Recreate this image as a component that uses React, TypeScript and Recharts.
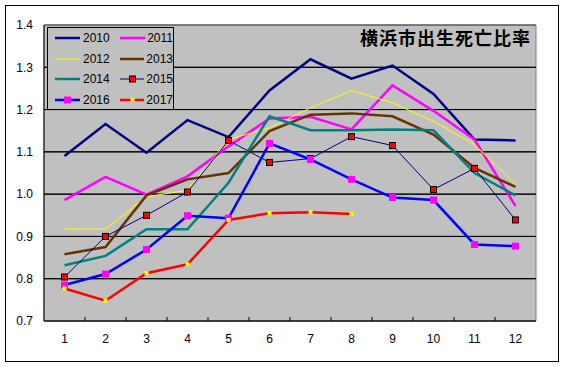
import React from "react";
import { LineChart, Line, XAxis, YAxis, CartesianGrid, ReferenceArea, ReferenceLine } from "recharts";

const months = ["1", "2", "3", "4", "5", "6", "7", "8", "9", "10", "11", "12"];
const yTicks = [0.7, 0.8, 0.9, 1.0, 1.1, 1.2, 1.3, 1.4];

const y2010 = [1.09, 1.166, 1.098, 1.175, 1.135, 1.245, 1.319, 1.273, 1.304, 1.237, 1.129, 1.127];
const y2011 = [0.986, 1.041, 0.999, 1.042, 1.113, 1.179, 1.183, 1.153, 1.257, 1.197, 1.129, 0.972];
const y2012 = [0.918, 0.917, 0.994, 1.009, 1.129, 1.157, 1.204, 1.245, 1.216, 1.172, 1.117, 1.024];
const y2013 = [0.858, 0.875, 0.997, 1.035, 1.05, 1.149, 1.188, 1.191, 1.184, 1.141, 1.062, 1.017];
const y2014 = [0.832, 0.854, 0.917, 0.917, 1.027, 1.184, 1.151, 1.151, 1.153, 1.151, 1.05, 0.997];
const y2015 = [0.804, 0.9, 0.95, 1.005, 1.127, 1.075, 1.084, 1.136, 1.115, 1.011, 1.061, 0.939];
const y2016 = [0.785, 0.811, 0.869, 0.949, 0.943, 1.12, 1.082, 1.035, 0.992, 0.986, 0.881, 0.877];
const y2017 = [0.777, 0.748, 0.813, 0.834, 0.939, 0.955, 0.957, 0.953, null, null, null, null];

type Marker = { fill: string; size: number; stroke?: string } | null;
type Series = { key: string; values: (number | null)[]; color: string; width: number; marker: Marker };

const series: Series[] = [
  { key: "2010", values: y2010, color: "#000080", width: 2.5, marker: null },
  { key: "2011", values: y2011, color: "#FF00FF", width: 2.5, marker: null },
  { key: "2012", values: y2012, color: "#FFFF00", width: 1, marker: null },
  { key: "2013", values: y2013, color: "#663300", width: 2.5, marker: null },
  { key: "2014", values: y2014, color: "#008080", width: 2.5, marker: null },
  { key: "2015", values: y2015, color: "#000080", width: 1, marker: { fill: "#FF0000", size: 6, stroke: "#000000" } },
  { key: "2016", values: y2016, color: "#0000FF", width: 2.5, marker: { fill: "#FF00FF", size: 7 } },
  { key: "2017", values: y2017, color: "#FF0000", width: 2.5, marker: { fill: "#FFFF00", size: 4 } },
];

const data = months.map((m, i) => {
  const row: Record<string, string | number | null> = { month: m };
  series.forEach((s) => (row[s.key] = s.values[i]));
  return row;
});

const FONT = "'Liberation Sans', Arial, sans-serif";

const squareDot = (marker: Marker) => (props: any) => {
  const { cx, cy, index } = props;
  if (!marker || cx == null || cy == null || props.value == null) return <g key={index} />;
  const h = marker.size / 2;
  return (
    <rect
      key={index}
      x={cx - h}
      y={cy - h}
      width={marker.size}
      height={marker.size}
      fill={marker.fill}
      stroke={marker.stroke ?? "none"}
      strokeWidth={marker.stroke ? 1 : 0}
    />
  );
};

// label plus a small inward tick mark on the boundary to the right of each category
const MonthTick = (props: any) => {
  const { x, y, payload, index } = props;
  const half = payload?.offset ?? 0;
  const axisY = y - 13;
  return (
    <g>
      {index < months.length - 1 && (
        <line x1={x + half} x2={x + half} y1={axisY} y2={axisY - 4} stroke="#000" />
      )}
      <text x={x} y={y} dy="0.71em" textAnchor="middle" fontSize={12} fontFamily={FONT} fill="#000">
        {payload.value}
      </text>
    </g>
  );
};

function LegendBox() {
  return (
    <div
      style={{
        position: "absolute",
        left: 47,
        top: 27,
        width: 125,
        height: 81,
        border: "1px solid #000",
        background: "#C0C0C0",
        display: "grid",
        gridTemplateColumns: "65px 60px",
        gridTemplateRows: "repeat(4, 20.5px)",
      }}
    >
      {series.map((s) => (
        <div key={s.key} style={{ display: "flex", alignItems: "center", paddingLeft: 7 }}>
          <svg width={26} height={10} style={{ display: "block" }}>
            <line x1={0} x2={25} y1={5} y2={5} stroke={s.color} strokeWidth={s.width} />
            {s.marker && (
              <rect
                x={12.5 - s.marker.size / 2}
                y={5 - s.marker.size / 2}
                width={s.marker.size}
                height={s.marker.size}
                fill={s.marker.fill}
                stroke={s.marker.stroke ?? "none"}
              />
            )}
          </svg>
          <span style={{ marginLeft: 2, fontSize: 12, fontFamily: FONT, color: "#000" }}>{s.key}</span>
        </div>
      ))}
    </div>
  );
}

export default function App() {
  return (
    <div style={{ position: "absolute", left: 0, top: 0, width: 565, height: 367, background: "#fff" }}>
      <div
        style={{
          position: "absolute",
          left: 5,
          top: 5,
          width: 554,
          height: 357,
          border: "1px solid #000",
          boxSizing: "border-box",
        }}
      />
      <div style={{ position: "absolute", left: 0, top: 0 }}>
        <LineChart width={565} height={367} data={data} margin={{ top: 25, right: 29, bottom: 16, left: 0 }}>
          <CartesianGrid vertical={false} fill="#C0C0C0" fillOpacity={1} stroke="#000" />
          <ReferenceArea x1="1" x2="12" y1={0.7} y2={1.4} fill="none" stroke="#808080" ifOverflow="extendDomain" />
          {yTicks.slice(1, -1).map((v) => (
            <ReferenceLine key={v} y={v} stroke="#000" />
          ))}
          <XAxis
            dataKey="month"
            scale="band"
            height={30}
            axisLine={{ stroke: "#000" }}
            tickLine={false}
            tickSize={0}
            tickMargin={13}
            interval={0}
            tick={<MonthTick />}
          />
          <YAxis
            width={44}
            domain={[0.7, 1.4]}
            ticks={yTicks}
            axisLine={{ stroke: "#000" }}
            tickLine={false}
            tickSize={0}
            tickMargin={11}
            tickFormatter={(v: number) => v.toFixed(1)}
            tick={{ fill: "#000", fontSize: 12, fontFamily: FONT }}
          />
          {series.map((s) => (
            <Line
              key={s.key}
              dataKey={s.key}
              stroke={s.color}
              strokeWidth={s.width}
              type="linear"
              dot={s.marker ? squareDot(s.marker) : false}
              activeDot={false}
              isAnimationActive={false}
              connectNulls={false}
            />
          ))}
        </LineChart>
      </div>
      <LegendBox />
      <div
        style={{
          position: "absolute",
          left: 355,
          top: 27,
          width: 176,
          textAlign: "right",
          fontFamily: "'Noto Sans CJK JP', sans-serif",
          fontWeight: 700,
          fontSize: 18,
          letterSpacing: 1,
          lineHeight: "20px",
          color: "#000",
        }}
      >
        横浜市出生死亡比率
      </div>
    </div>
  );
}
